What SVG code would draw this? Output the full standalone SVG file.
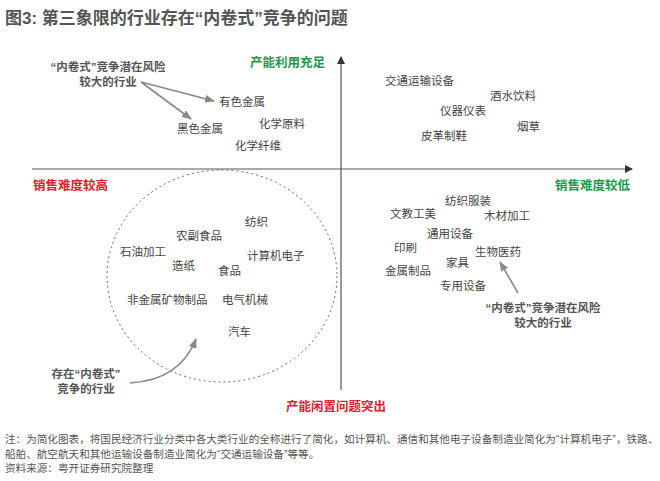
<svg xmlns="http://www.w3.org/2000/svg" width="660" height="481" viewBox="0 0 660 481">
<style>
text{font-family:"Liberation Sans","Noto Sans CJK SC",sans-serif}
.t{font-size:11.5px;fill:#444}
.b{font-size:11.5px;fill:#555;font-weight:bold}
.g{font-size:12.5px;fill:#1a9a4a;font-weight:bold}
.r{font-size:12.5px;fill:#e0202a;font-weight:bold}
.n{font-size:10.6px;fill:#555}
.ln{stroke:#555;stroke-width:1.2;fill:none}
.ar{stroke:#888;stroke-width:1.6;fill:none}
</style>
<defs>
<marker id="ah" markerWidth="8" markerHeight="8" refX="7" refY="4" orient="auto" markerUnits="userSpaceOnUse"><path d="M0,0L8,4L0,8z" fill="#333"/></marker>
<marker id="ag" markerWidth="10" markerHeight="8" refX="9" refY="4" orient="auto" markerUnits="userSpaceOnUse"><path d="M0,0L10,4L0,8z" fill="#888"/></marker>
</defs>
<rect width="660" height="481" fill="#fff"/>
<text x="5" y="24" style="font-size:17px;font-weight:bold;fill:#555">图3: 第三象限的行业存在“内卷式”竞争的问题</text>
<g id="connectors">
<line class="ln" x1="32" y1="169" x2="632" y2="169" marker-end="url(#ah)"/>
<line class="ln" x1="341" y1="390" x2="341" y2="57" marker-end="url(#ah)"/>
<ellipse cx="222" cy="276" rx="115" ry="106" fill="none" stroke="#666" stroke-width="1" stroke-dasharray="2,3"/>
<line class="ar" x1="141" y1="82" x2="214" y2="101" marker-end="url(#ag)"/>
<line class="ar" x1="141" y1="82" x2="191" y2="119" marker-end="url(#ag)"/>
<line class="ar" x1="518" y1="293" x2="500" y2="262" marker-end="url(#ag)"/>
<path class="ar" d="M130,383 Q180,380 196,339" marker-end="url(#ag)"/>
</g>
<g id="axis-labels">
<text class="g" x="250" y="67">产能利用充足</text>
<text class="r" x="33" y="190">销售难度较高</text>
<text class="g" x="555" y="190">销售难度较低</text>
<text class="r" x="286" y="411">产能闲置问题突出</text>
</g>
<g id="callouts">
<text class="b" x="108" y="71" text-anchor="middle">“内卷式”竞争潜在风险</text>
<text class="b" x="108" y="86" text-anchor="middle">较大的行业</text>
<text class="b" x="543" y="312" text-anchor="middle">“内卷式”竞争潜在风险</text>
<text class="b" x="543" y="327" text-anchor="middle">较大的行业</text>
<text class="b" x="86" y="378" text-anchor="middle">存在“内卷式”</text>
<text class="b" x="86" y="393" text-anchor="middle">竞争的行业</text>
</g>
<g id="q2">
<text class="t" x="219" y="106">有色金属</text>
<text class="t" x="177" y="133">黑色金属</text>
<text class="t" x="259" y="128">化学原料</text>
<text class="t" x="235" y="150">化学纤维</text>
</g>
<g id="q1">
<text class="t" x="385" y="85">交通运输设备</text>
<text class="t" x="490" y="100">酒水饮料</text>
<text class="t" x="440" y="115">仪器仪表</text>
<text class="t" x="517" y="131">烟草</text>
<text class="t" x="421" y="140">皮革制鞋</text>
</g>
<g id="q3">
<text class="t" x="245" y="226">纺织</text>
<text class="t" x="176" y="240">农副食品</text>
<text class="t" x="120" y="256">石油加工</text>
<text class="t" x="247" y="260">计算机电子</text>
<text class="t" x="172" y="270">造纸</text>
<text class="t" x="218" y="275">食品</text>
<text class="t" x="127" y="304">非金属矿物制品</text>
<text class="t" x="222" y="304">电气机械</text>
<text class="t" x="228" y="336">汽车</text>
</g>
<g id="q4">
<text class="t" x="445" y="205">纺织服装</text>
<text class="t" x="390" y="218">文教工美</text>
<text class="t" x="484" y="220">木材加工</text>
<text class="t" x="427" y="238">通用设备</text>
<text class="t" x="394" y="252">印刷</text>
<text class="t" x="475" y="256">生物医药</text>
<text class="t" x="446" y="267">家具</text>
<text class="t" x="385" y="275">金属制品</text>
<text class="t" x="440" y="290">专用设备</text>
</g>
<g id="notes">
<text class="n" x="5" y="443">注：为简化图表，将国民经济行业分类中各大类行业的全称进行了简化，如计算机、通信和其他电子设备制造业简化为“计算机电子”，铁路、</text>
<text class="n" x="5" y="458">船舶、航空航天和其他运输设备制造业简化为“交通运输设备”等等。</text>
<text class="n" x="5" y="472">资料来源：粤开证券研究院整理</text>
</g>
</svg>
